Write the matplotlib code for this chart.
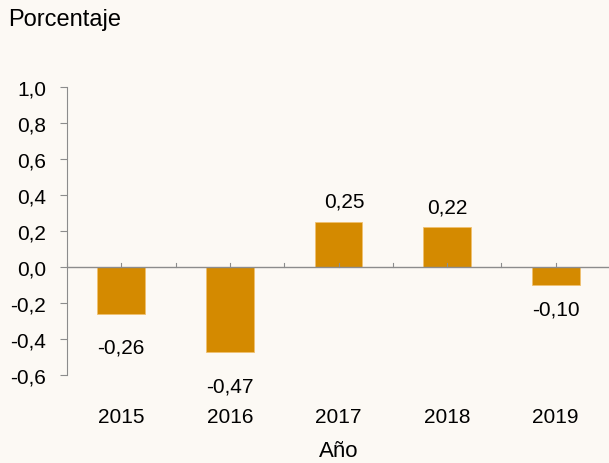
import numpy as np
import matplotlib.pyplot as plt

plt.rcParams['font.family'] = ['Liberation Sans', 'DejaVu Sans']

anios = ['2015', '2016', '2017', '2018', '2019']
valores = [-0.26, -0.47, 0.25, 0.22, -0.10]
etiquetas = ['-0,26', '-0,47', '0,25', '0,22', '-0,10']
y_ticks = [-0.6, -0.4, -0.2, 0.0, 0.2, 0.4, 0.6, 0.8, 1.0]

FONDO = '#FCF9F4'
NARANJA = '#D48A00'
GRIS = '#8C8C8C'

fig = plt.figure(figsize=(6.09, 4.64), dpi=100, facecolor=FONDO)
ax = fig.add_axes([67 / 609, 1 - 376 / 464, 543 / 609, 288 / 464])
ax.set_facecolor(FONDO)

x = np.arange(len(anios))
ax.bar(x, valores, width=0.44, color=NARANJA, edgecolor='#F0C070',
       linewidth=0.6, zorder=2)

# etiquetas de datos
offsets = [-24, -25, 15, 15, -17]
dx = [0, 0, 4, 0, 0]
for xi, v, lab, off, d in zip(x, valores, etiquetas, offsets, dx):
    ax.annotate(lab, (xi, v), xytext=(d, off), textcoords='offset points',
                ha='center', va='center', fontsize=15, color='black')

ax.set_xlim(-0.5, len(anios) - 0.5)
ax.set_ylim(-0.6, 1.0)
ax.set_yticks(y_ticks)
ax.set_yticklabels([f'{t:.1f}'.replace('.', ',') for t in y_ticks], fontsize=15)
ax.tick_params(axis='y', length=5, width=0.8, color=GRIS, pad=10)

# eje cero con marcas hacia arriba
ax.axhline(0, color=GRIS, linewidth=1.0, zorder=3)
for xt in np.arange(-0.5, len(anios), 0.5):
    ax.plot([xt, xt], [0, 0.025], color=GRIS, linewidth=0.8, zorder=3,
            clip_on=False)

ax.set_xticks([])
for xi, a in zip(x, anios):
    ax.text(xi, -0.6 - 0.23, a, ha='center', va='center', fontsize=15)
ax.text(2, -0.6 - 0.42, 'Año', ha='center', va='center', fontsize=16)

for s in ['top', 'right', 'bottom']:
    ax.spines[s].set_visible(False)
ax.spines['left'].set_color(GRIS)
ax.spines['left'].set_linewidth(0.8)

fig.text(8 / 609, 1 - 20 / 464, 'Porcentaje', ha='left', va='center',
         fontsize=17)

plt.savefig('out.png', dpi=100, facecolor=FONDO)
